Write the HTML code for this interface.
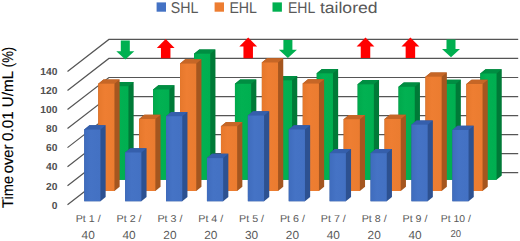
<!DOCTYPE html>
<html><head><meta charset="utf-8"><title>chart</title>
<style>html,body{margin:0;padding:0;background:#fff;}svg{display:block;}text{text-rendering:geometricPrecision;}</style></head>
<body>
<svg width="520" height="241" viewBox="0 0 520 241">
<rect width="520" height="241" fill="#fff"/>
<defs><linearGradient id="gb" x1="0" x2="1" y1="0" y2="0"><stop offset="0" stop-color="#3F6CBD"/><stop offset="0.4" stop-color="#4573C5"/><stop offset="1" stop-color="#4371C3"/></linearGradient><linearGradient id="go" x1="0" x2="1" y1="0" y2="0"><stop offset="0" stop-color="#E6782C"/><stop offset="0.4" stop-color="#EE7E32"/><stop offset="1" stop-color="#EB7C30"/></linearGradient><linearGradient id="gg" x1="0" x2="1" y1="0" y2="0"><stop offset="0" stop-color="#00A94C"/><stop offset="0.4" stop-color="#02B152"/><stop offset="1" stop-color="#00AF50"/></linearGradient></defs>
<g><polyline points="67.50,204.75 108.90,172.70 518.2,172.70" fill="none" stroke="#555555" stroke-width="1.2"/>
<polyline points="67.50,185.71 108.90,153.66 518.2,153.66" fill="none" stroke="#555555" stroke-width="1.2"/>
<polyline points="67.50,166.67 108.90,134.62 518.2,134.62" fill="none" stroke="#555555" stroke-width="1.2"/>
<polyline points="67.50,147.63 108.90,115.58 518.2,115.58" fill="none" stroke="#555555" stroke-width="1.2"/>
<polyline points="67.50,128.59 108.90,96.54 518.2,96.54" fill="none" stroke="#555555" stroke-width="1.2"/>
<polyline points="67.50,109.55 108.90,77.50 518.2,77.50" fill="none" stroke="#555555" stroke-width="1.2"/>
<polyline points="67.50,90.51 108.90,58.46 518.2,58.46" fill="none" stroke="#555555" stroke-width="1.2"/>
<polyline points="67.50,71.47 108.90,39.42 518.2,39.42" fill="none" stroke="#555555" stroke-width="1.2"/></g>
<polygon points="112.25,179.80 112.25,86.20 117.45,81.90 133.65,81.90 133.65,175.50 128.45,179.80" fill="#007A37"/>
<polygon points="112.25,86.70 112.25,86.20 117.45,81.90 133.65,81.90 128.45,86.20 128.45,86.70" fill="#008E42"/>
<rect x="112.25" y="86.20" width="16.20" height="93.60" fill="url(#gg)"/>
<polygon points="153.15,179.80 153.15,89.50 158.35,85.20 174.55,85.20 174.55,175.50 169.35,179.80" fill="#007A37"/>
<polygon points="153.15,90.00 153.15,89.50 158.35,85.20 174.55,85.20 169.35,89.50 169.35,90.00" fill="#008E42"/>
<rect x="153.15" y="89.50" width="16.20" height="90.30" fill="url(#gg)"/>
<polygon points="194.05,179.80 194.05,53.70 199.25,49.40 215.45,49.40 215.45,175.50 210.25,179.80" fill="#007A37"/>
<polygon points="194.05,54.20 194.05,53.70 199.25,49.40 215.45,49.40 210.25,53.70 210.25,54.20" fill="#008E42"/>
<rect x="194.05" y="53.70" width="16.20" height="126.10" fill="url(#gg)"/>
<polygon points="234.95,179.80 234.95,83.80 240.15,79.50 256.35,79.50 256.35,175.50 251.15,179.80" fill="#007A37"/>
<polygon points="234.95,84.30 234.95,83.80 240.15,79.50 256.35,79.50 251.15,83.80 251.15,84.30" fill="#008E42"/>
<rect x="234.95" y="83.80" width="16.20" height="96.00" fill="url(#gg)"/>
<polygon points="275.85,179.80 275.85,80.30 281.05,76.00 297.25,76.00 297.25,175.50 292.05,179.80" fill="#007A37"/>
<polygon points="275.85,80.80 275.85,80.30 281.05,76.00 297.25,76.00 292.05,80.30 292.05,80.80" fill="#008E42"/>
<rect x="275.85" y="80.30" width="16.20" height="99.50" fill="url(#gg)"/>
<polygon points="316.75,179.80 316.75,73.30 321.95,69.00 338.15,69.00 338.15,175.50 332.95,179.80" fill="#007A37"/>
<polygon points="316.75,73.80 316.75,73.30 321.95,69.00 338.15,69.00 332.95,73.30 332.95,73.80" fill="#008E42"/>
<rect x="316.75" y="73.30" width="16.20" height="106.50" fill="url(#gg)"/>
<polygon points="357.65,179.80 357.65,84.30 362.85,80.00 379.05,80.00 379.05,175.50 373.85,179.80" fill="#007A37"/>
<polygon points="357.65,84.80 357.65,84.30 362.85,80.00 379.05,80.00 373.85,84.30 373.85,84.80" fill="#008E42"/>
<rect x="357.65" y="84.30" width="16.20" height="95.50" fill="url(#gg)"/>
<polygon points="398.55,179.80 398.55,86.80 403.75,82.50 419.95,82.50 419.95,175.50 414.75,179.80" fill="#007A37"/>
<polygon points="398.55,87.30 398.55,86.80 403.75,82.50 419.95,82.50 414.75,86.80 414.75,87.30" fill="#008E42"/>
<rect x="398.55" y="86.80" width="16.20" height="93.00" fill="url(#gg)"/>
<polygon points="439.45,179.80 439.45,84.00 444.65,79.70 460.85,79.70 460.85,175.50 455.65,179.80" fill="#007A37"/>
<polygon points="439.45,84.50 439.45,84.00 444.65,79.70 460.85,79.70 455.65,84.00 455.65,84.50" fill="#008E42"/>
<rect x="439.45" y="84.00" width="16.20" height="95.80" fill="url(#gg)"/>
<polygon points="480.35,179.80 480.35,73.50 485.55,69.20 501.75,69.20 501.75,175.50 496.55,179.80" fill="#007A37"/>
<polygon points="480.35,74.00 480.35,73.50 485.55,69.20 501.75,69.20 496.55,73.50 496.55,74.00" fill="#008E42"/>
<rect x="480.35" y="73.50" width="16.20" height="106.30" fill="url(#gg)"/>
<polygon points="98.25,191.00 98.25,83.70 103.45,79.40 119.65,79.40 119.65,186.70 114.45,191.00" fill="#A5561F"/>
<polygon points="98.25,84.20 98.25,83.70 103.45,79.40 119.65,79.40 114.45,83.70 114.45,84.20" fill="#C66626"/>
<rect x="98.25" y="83.70" width="16.20" height="107.30" fill="url(#go)"/>
<polygon points="139.15,191.00 139.15,119.00 144.35,114.70 160.55,114.70 160.55,186.70 155.35,191.00" fill="#A5561F"/>
<polygon points="139.15,119.50 139.15,119.00 144.35,114.70 160.55,114.70 155.35,119.00 155.35,119.50" fill="#C66626"/>
<rect x="139.15" y="119.00" width="16.20" height="72.00" fill="url(#go)"/>
<polygon points="180.05,191.00 180.05,63.60 185.25,59.30 201.45,59.30 201.45,186.70 196.25,191.00" fill="#A5561F"/>
<polygon points="180.05,64.10 180.05,63.60 185.25,59.30 201.45,59.30 196.25,63.60 196.25,64.10" fill="#C66626"/>
<rect x="180.05" y="63.60" width="16.20" height="127.40" fill="url(#go)"/>
<polygon points="220.95,191.00 220.95,126.20 226.15,121.90 242.35,121.90 242.35,186.70 237.15,191.00" fill="#A5561F"/>
<polygon points="220.95,126.70 220.95,126.20 226.15,121.90 242.35,121.90 237.15,126.20 237.15,126.70" fill="#C66626"/>
<rect x="220.95" y="126.20" width="16.20" height="64.80" fill="url(#go)"/>
<polygon points="261.85,191.00 261.85,62.50 267.05,58.20 283.25,58.20 283.25,186.70 278.05,191.00" fill="#A5561F"/>
<polygon points="261.85,63.00 261.85,62.50 267.05,58.20 283.25,58.20 278.05,62.50 278.05,63.00" fill="#C66626"/>
<rect x="261.85" y="62.50" width="16.20" height="128.50" fill="url(#go)"/>
<polygon points="302.75,191.00 302.75,83.60 307.95,79.30 324.15,79.30 324.15,186.70 318.95,191.00" fill="#A5561F"/>
<polygon points="302.75,84.10 302.75,83.60 307.95,79.30 324.15,79.30 318.95,83.60 318.95,84.10" fill="#C66626"/>
<rect x="302.75" y="83.60" width="16.20" height="107.40" fill="url(#go)"/>
<polygon points="343.65,191.00 343.65,119.20 348.85,114.90 365.05,114.90 365.05,186.70 359.85,191.00" fill="#A5561F"/>
<polygon points="343.65,119.70 343.65,119.20 348.85,114.90 365.05,114.90 359.85,119.20 359.85,119.70" fill="#C66626"/>
<rect x="343.65" y="119.20" width="16.20" height="71.80" fill="url(#go)"/>
<polygon points="384.55,191.00 384.55,119.00 389.75,114.70 405.95,114.70 405.95,186.70 400.75,191.00" fill="#A5561F"/>
<polygon points="384.55,119.50 384.55,119.00 389.75,114.70 405.95,114.70 400.75,119.00 400.75,119.50" fill="#C66626"/>
<rect x="384.55" y="119.00" width="16.20" height="72.00" fill="url(#go)"/>
<polygon points="425.45,191.00 425.45,76.70 430.65,72.40 446.85,72.40 446.85,186.70 441.65,191.00" fill="#A5561F"/>
<polygon points="425.45,77.20 425.45,76.70 430.65,72.40 446.85,72.40 441.65,76.70 441.65,77.20" fill="#C66626"/>
<rect x="425.45" y="76.70" width="16.20" height="114.30" fill="url(#go)"/>
<polygon points="466.35,191.00 466.35,84.00 471.55,79.70 487.75,79.70 487.75,186.70 482.55,191.00" fill="#A5561F"/>
<polygon points="466.35,84.50 466.35,84.00 471.55,79.70 487.75,79.70 482.55,84.00 482.55,84.50" fill="#C66626"/>
<rect x="466.35" y="84.00" width="16.20" height="107.00" fill="url(#go)"/>
<polygon points="84.25,201.20 84.25,129.60 89.45,125.30 105.65,125.30 105.65,196.90 100.45,201.20" fill="#2D5191"/>
<polygon points="84.25,130.10 84.25,129.60 89.45,125.30 105.65,125.30 100.45,129.60 100.45,130.10" fill="#355FAC"/>
<rect x="84.25" y="129.60" width="16.20" height="71.60" fill="url(#gb)"/>
<polygon points="125.15,201.20 125.15,152.50 130.35,148.20 146.55,148.20 146.55,196.90 141.35,201.20" fill="#2D5191"/>
<polygon points="125.15,153.00 125.15,152.50 130.35,148.20 146.55,148.20 141.35,152.50 141.35,153.00" fill="#355FAC"/>
<rect x="125.15" y="152.50" width="16.20" height="48.70" fill="url(#gb)"/>
<polygon points="166.05,201.20 166.05,116.20 171.25,111.90 187.45,111.90 187.45,196.90 182.25,201.20" fill="#2D5191"/>
<polygon points="166.05,116.70 166.05,116.20 171.25,111.90 187.45,111.90 182.25,116.20 182.25,116.70" fill="#355FAC"/>
<rect x="166.05" y="116.20" width="16.20" height="85.00" fill="url(#gb)"/>
<polygon points="206.95,201.20 206.95,158.10 212.15,153.80 228.35,153.80 228.35,196.90 223.15,201.20" fill="#2D5191"/>
<polygon points="206.95,158.60 206.95,158.10 212.15,153.80 228.35,153.80 223.15,158.10 223.15,158.60" fill="#355FAC"/>
<rect x="206.95" y="158.10" width="16.20" height="43.10" fill="url(#gb)"/>
<polygon points="247.85,201.20 247.85,115.60 253.05,111.30 269.25,111.30 269.25,196.90 264.05,201.20" fill="#2D5191"/>
<polygon points="247.85,116.10 247.85,115.60 253.05,111.30 269.25,111.30 264.05,115.60 264.05,116.10" fill="#355FAC"/>
<rect x="247.85" y="115.60" width="16.20" height="85.60" fill="url(#gb)"/>
<polygon points="288.75,201.20 288.75,129.50 293.95,125.20 310.15,125.20 310.15,196.90 304.95,201.20" fill="#2D5191"/>
<polygon points="288.75,130.00 288.75,129.50 293.95,125.20 310.15,125.20 304.95,129.50 304.95,130.00" fill="#355FAC"/>
<rect x="288.75" y="129.50" width="16.20" height="71.70" fill="url(#gb)"/>
<polygon points="329.65,201.20 329.65,153.20 334.85,148.90 351.05,148.90 351.05,196.90 345.85,201.20" fill="#2D5191"/>
<polygon points="329.65,153.70 329.65,153.20 334.85,148.90 351.05,148.90 345.85,153.20 345.85,153.70" fill="#355FAC"/>
<rect x="329.65" y="153.20" width="16.20" height="48.00" fill="url(#gb)"/>
<polygon points="370.55,201.20 370.55,153.20 375.75,148.90 391.95,148.90 391.95,196.90 386.75,201.20" fill="#2D5191"/>
<polygon points="370.55,153.70 370.55,153.20 375.75,148.90 391.95,148.90 386.75,153.20 386.75,153.70" fill="#355FAC"/>
<rect x="370.55" y="153.20" width="16.20" height="48.00" fill="url(#gb)"/>
<polygon points="411.45,201.20 411.45,124.70 416.65,120.40 432.85,120.40 432.85,196.90 427.65,201.20" fill="#2D5191"/>
<polygon points="411.45,125.20 411.45,124.70 416.65,120.40 432.85,120.40 427.65,124.70 427.65,125.20" fill="#355FAC"/>
<rect x="411.45" y="124.70" width="16.20" height="76.50" fill="url(#gb)"/>
<polygon points="452.35,201.20 452.35,130.00 457.55,125.70 473.75,125.70 473.75,196.90 468.55,201.20" fill="#2D5191"/>
<polygon points="452.35,130.50 452.35,130.00 457.55,125.70 473.75,125.70 468.55,130.00 468.55,130.50" fill="#355FAC"/>
<rect x="452.35" y="130.00" width="16.20" height="71.20" fill="url(#gb)"/>
<polygon points="125.30,59.60 134.30,51.20 129.80,51.20 129.80,40.60 120.80,40.60 120.80,51.20 116.30,51.20" fill="#00B050"/>
<polygon points="165.70,39.10 174.60,48.10 170.45,48.10 170.45,58.20 160.95,58.20 160.95,48.10 156.80,48.10" fill="#FF0000"/>
<polygon points="248.20,37.60 257.10,46.60 252.95,46.60 252.95,58.20 243.45,58.20 243.45,46.60 239.30,46.60" fill="#FF0000"/>
<polygon points="287.90,58.10 296.90,49.70 292.40,49.70 292.40,40.00 283.40,40.00 283.40,49.70 278.90,49.70" fill="#00B050"/>
<polygon points="365.50,37.40 374.40,46.40 370.25,46.40 370.25,58.00 360.75,58.00 360.75,46.40 356.60,46.40" fill="#FF0000"/>
<polygon points="410.40,37.40 419.30,46.40 415.15,46.40 415.15,58.00 405.65,58.00 405.65,46.40 401.50,46.40" fill="#FF0000"/>
<polygon points="451.00,57.30 460.00,48.90 455.50,48.90 455.50,39.50 446.50,39.50 446.50,48.90 442.00,48.90" fill="#00B050"/>
<rect x="156.6" y="2.4" width="9.4" height="9.3" fill="#4472C4"/>
<text x="170.8" y="13.1" font-family="Liberation Sans, sans-serif" font-size="15.6" fill="#595959" textLength="27.6" lengthAdjust="spacingAndGlyphs">SHL</text>
<rect x="214.6" y="2.4" width="9.4" height="9.3" fill="#ED7D31"/>
<text x="229.4" y="13.1" font-family="Liberation Sans, sans-serif" font-size="15.6" fill="#595959" textLength="27.6" lengthAdjust="spacingAndGlyphs">EHL</text>
<rect x="272.5" y="2.4" width="9.4" height="9.3" fill="#00B050"/>
<text x="288" y="13.1" font-family="Liberation Sans, sans-serif" font-size="15.6" fill="#595959" textLength="27.3" lengthAdjust="spacingAndGlyphs">EHL</text>
<text x="319.9" y="13.1" font-family="Liberation Sans, sans-serif" font-size="15.6" fill="#595959" textLength="57.7" lengthAdjust="spacingAndGlyphs">tailored</text>
<text x="57.4" y="208.55" text-anchor="end" font-family="Liberation Sans, sans-serif" font-weight="bold" font-size="10.2" fill="#505050" textLength="5.7" lengthAdjust="spacingAndGlyphs">0</text>
<text x="57.4" y="189.51" text-anchor="end" font-family="Liberation Sans, sans-serif" font-weight="bold" font-size="10.2" fill="#505050" textLength="11.4" lengthAdjust="spacingAndGlyphs">20</text>
<text x="57.4" y="170.47" text-anchor="end" font-family="Liberation Sans, sans-serif" font-weight="bold" font-size="10.2" fill="#505050" textLength="11.4" lengthAdjust="spacingAndGlyphs">40</text>
<text x="57.4" y="151.43" text-anchor="end" font-family="Liberation Sans, sans-serif" font-weight="bold" font-size="10.2" fill="#505050" textLength="11.4" lengthAdjust="spacingAndGlyphs">60</text>
<text x="57.4" y="132.39" text-anchor="end" font-family="Liberation Sans, sans-serif" font-weight="bold" font-size="10.2" fill="#505050" textLength="11.4" lengthAdjust="spacingAndGlyphs">80</text>
<text x="57.4" y="113.35" text-anchor="end" font-family="Liberation Sans, sans-serif" font-weight="bold" font-size="10.2" fill="#505050" textLength="17.1" lengthAdjust="spacingAndGlyphs">100</text>
<text x="57.4" y="94.31" text-anchor="end" font-family="Liberation Sans, sans-serif" font-weight="bold" font-size="10.2" fill="#505050" textLength="17.1" lengthAdjust="spacingAndGlyphs">120</text>
<text x="57.4" y="75.27" text-anchor="end" font-family="Liberation Sans, sans-serif" font-weight="bold" font-size="10.2" fill="#505050" textLength="17.1" lengthAdjust="spacingAndGlyphs">140</text>
<text transform="translate(13.2,207.9) rotate(-90)" font-family="Liberation Sans, sans-serif" font-size="15.4" fill="#000" stroke="#000" stroke-width="0.15" textLength="32.0" lengthAdjust="spacingAndGlyphs">Time</text>
<text transform="translate(13.2,173.2) rotate(-90)" font-family="Liberation Sans, sans-serif" font-size="15.4" fill="#000" stroke="#000" stroke-width="0.15" textLength="28.7" lengthAdjust="spacingAndGlyphs">over</text>
<text transform="translate(13.2,141.0) rotate(-90)" font-family="Liberation Sans, sans-serif" font-size="15.4" fill="#000" stroke="#000" stroke-width="0.15" textLength="29.6" lengthAdjust="spacingAndGlyphs">0.01</text>
<text transform="translate(13.2,107.2) rotate(-90)" font-family="Liberation Sans, sans-serif" font-size="15.4" fill="#000" stroke="#000" stroke-width="0.15" textLength="36.2" lengthAdjust="spacingAndGlyphs">U/mL</text>
<text transform="translate(13.2,67.2) rotate(-90)" font-family="Liberation Sans, sans-serif" font-size="15.4" fill="#000" stroke="#000" stroke-width="0.15" textLength="20.4" lengthAdjust="spacingAndGlyphs">(%)</text>
<text x="88.20" y="221.9" text-anchor="middle" font-family="Liberation Sans, sans-serif" font-size="10" fill="#595959" textLength="25" lengthAdjust="spacingAndGlyphs">Pt 1 /</text>
<text x="88.20" y="239.4" text-anchor="middle" font-family="Liberation Sans, sans-serif" font-size="11.7" fill="#595959" textLength="13.2" lengthAdjust="spacingAndGlyphs">40</text>
<text x="129.05" y="221.9" text-anchor="middle" font-family="Liberation Sans, sans-serif" font-size="10" fill="#595959" textLength="25" lengthAdjust="spacingAndGlyphs">Pt 2 /</text>
<text x="129.05" y="239.4" text-anchor="middle" font-family="Liberation Sans, sans-serif" font-size="11.7" fill="#595959" textLength="13.2" lengthAdjust="spacingAndGlyphs">40</text>
<text x="169.90" y="221.9" text-anchor="middle" font-family="Liberation Sans, sans-serif" font-size="10" fill="#595959" textLength="25" lengthAdjust="spacingAndGlyphs">Pt 3 /</text>
<text x="169.90" y="239.4" text-anchor="middle" font-family="Liberation Sans, sans-serif" font-size="11.7" fill="#595959" textLength="13.2" lengthAdjust="spacingAndGlyphs">20</text>
<text x="210.75" y="221.9" text-anchor="middle" font-family="Liberation Sans, sans-serif" font-size="10" fill="#595959" textLength="25" lengthAdjust="spacingAndGlyphs">Pt 4 /</text>
<text x="210.75" y="239.4" text-anchor="middle" font-family="Liberation Sans, sans-serif" font-size="11.7" fill="#595959" textLength="13.2" lengthAdjust="spacingAndGlyphs">20</text>
<text x="251.60" y="221.9" text-anchor="middle" font-family="Liberation Sans, sans-serif" font-size="10" fill="#595959" textLength="25" lengthAdjust="spacingAndGlyphs">Pt 5 /</text>
<text x="251.60" y="239.4" text-anchor="middle" font-family="Liberation Sans, sans-serif" font-size="11.7" fill="#595959" textLength="13.2" lengthAdjust="spacingAndGlyphs">30</text>
<text x="292.45" y="221.9" text-anchor="middle" font-family="Liberation Sans, sans-serif" font-size="10" fill="#595959" textLength="25" lengthAdjust="spacingAndGlyphs">Pt 6 /</text>
<text x="292.45" y="239.4" text-anchor="middle" font-family="Liberation Sans, sans-serif" font-size="11.7" fill="#595959" textLength="13.2" lengthAdjust="spacingAndGlyphs">20</text>
<text x="333.30" y="221.9" text-anchor="middle" font-family="Liberation Sans, sans-serif" font-size="10" fill="#595959" textLength="25" lengthAdjust="spacingAndGlyphs">Pt 7 /</text>
<text x="333.30" y="239.4" text-anchor="middle" font-family="Liberation Sans, sans-serif" font-size="11.7" fill="#595959" textLength="13.2" lengthAdjust="spacingAndGlyphs">40</text>
<text x="374.15" y="221.9" text-anchor="middle" font-family="Liberation Sans, sans-serif" font-size="10" fill="#595959" textLength="25" lengthAdjust="spacingAndGlyphs">Pt 8 /</text>
<text x="374.15" y="239.4" text-anchor="middle" font-family="Liberation Sans, sans-serif" font-size="11.7" fill="#595959" textLength="13.2" lengthAdjust="spacingAndGlyphs">20</text>
<text x="415.00" y="221.9" text-anchor="middle" font-family="Liberation Sans, sans-serif" font-size="10" fill="#595959" textLength="25" lengthAdjust="spacingAndGlyphs">Pt 9 /</text>
<text x="415.00" y="239.4" text-anchor="middle" font-family="Liberation Sans, sans-serif" font-size="11.7" fill="#595959" textLength="13.2" lengthAdjust="spacingAndGlyphs">40</text>
<text x="455.85" y="221.9" text-anchor="middle" font-family="Liberation Sans, sans-serif" font-size="10" fill="#595959" textLength="30" lengthAdjust="spacingAndGlyphs">Pt 10 /</text>
<text x="455.85" y="237" text-anchor="middle" font-family="Liberation Sans, sans-serif" font-size="10" fill="#595959" textLength="10.6" lengthAdjust="spacingAndGlyphs">20</text>
</svg>
</body></html>
